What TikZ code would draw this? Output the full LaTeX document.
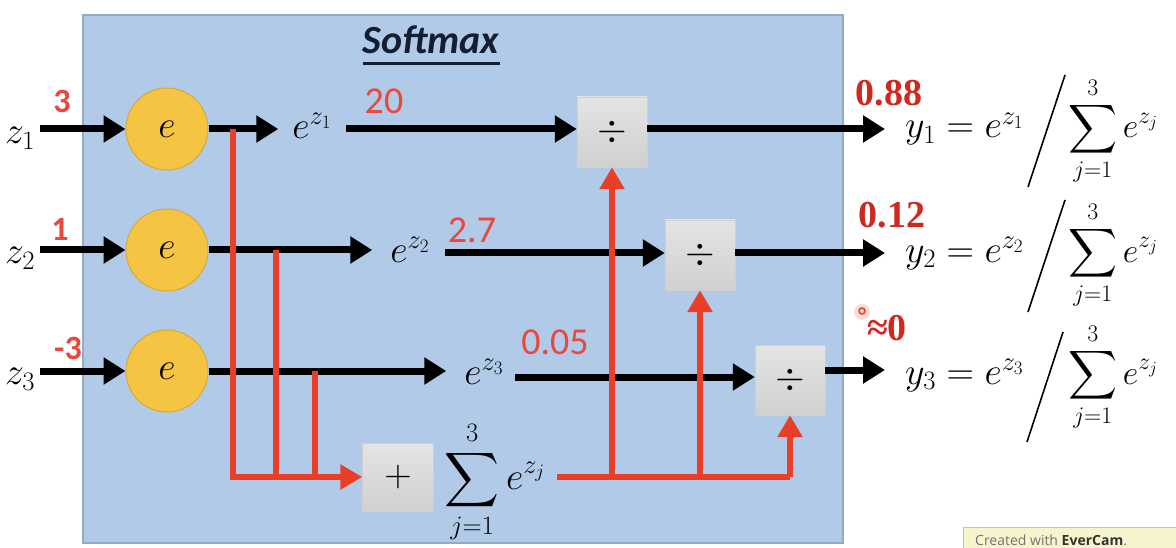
\RequirePackage{fix-cm}
\documentclass[tikz,border=0pt]{standalone}
\usepackage{fontspec}
\usetikzlibrary{arrows.meta,calc}
\DeclareFontFamily{OMX}{cmex}{}
\DeclareFontShape{OMX}{cmex}{m}{n}{<->cmex10}{}
\newfontfamily\carl{Carlito}
\newfontfamily\tms{Liberation Serif}
\newfontfamily\wmfont{Open Sans}
\definecolor{boxblue}{RGB}{176,202,232}
\definecolor{boxedge}{RGB}{150,170,195}
\definecolor{gold}{RGB}{245,196,66}
\definecolor{goldedge}{RGB}{215,170,60}
\definecolor{opred}{RGB}{232,64,40}
\definecolor{txtred}{RGB}{232,72,62}
\definecolor{numred}{RGB}{208,40,30}
\definecolor{graytop}{RGB}{228,228,228}
\definecolor{graybot}{RGB}{208,208,208}
\definecolor{titleblue}{RGB}{20,30,50}
\definecolor{wmyellow}{RGB}{246,244,204}
\definecolor{wmedge}{RGB}{200,196,160}
\begin{document}
\begin{tikzpicture}[x=1pt,y=-1pt,
  blk/.style={line width=7pt,-{Triangle[length=22pt,width=26pt]}},
  blkline/.style={line width=7pt},
  redline/.style={opred,line width=6pt},
  redarr/.style={opred,line width=6pt,-{Triangle[length=22pt,width=24pt]}},
  expnode/.style={circle,fill=gold,draw=goldedge,line width=1pt,minimum size=82pt,inner sep=0pt,font=\fontsize{38}{40}\selectfont},
  opbox/.style={rectangle,top color=graytop,bottom color=graybot,draw=graybot,minimum width=70pt,minimum height=70pt,inner sep=0pt,font=\fontsize{38}{40}\selectfont},
  mtxt/.style={inner sep=0pt,font=\fontsize{38}{40}\selectfont},
  sred/.style={text=txtred,font=\carl\fontsize{38}{40}\selectfont,inner sep=0pt},
  sredb/.style={text=txtred,font=\carl\bfseries\fontsize{34}{36}\selectfont,inner sep=0pt},
  tred/.style={text=numred,font=\tms\bfseries\fontsize{38}{40}\selectfont,inner sep=0pt},
  slash/.style={line width=1.6pt,black}
]
\useasboundingbox (0,0) rectangle (1176,548);
\fill[white] (0,0) rectangle (1176,548);
% main box
\fill[boxblue,draw=boxedge,line width=1.5pt] (83,15) rectangle (843,543);
% title
\node[inner sep=0pt,text=titleblue,font=\carl\bfseries\itshape\fontsize{40}{40}\selectfont] (title) at (431,40) {Softmax};
\draw[titleblue,line width=2.5pt] ([yshift=-10pt]title.base west) -- ([yshift=-10pt]title.base east);

% exp circles
\node[expnode] (e1) at (167,129) {$e$};
\node[expnode] (e2) at (167,250) {$e$};
\node[expnode] (e3) at (167,371) {$e$};

% inputs
\node[mtxt] (z1) at (20,138) {$z_1$};
\node[mtxt] (z2) at (20,258) {$z_2$};
\node[mtxt] (z3) at (20,379) {$z_3$};
\coordinate (in1) at (40,129);
\coordinate (in2) at (40,250);
\coordinate (in3) at (40,371);
\draw[blk] (in1) -- (e1);
\draw[blk] (in2) -- (e2);
\draw[blk] (in3) -- (e3);
\node[sredb] (v1) at (62,101) {3};
\node[sredb] (v2) at (60,229) {1};
\node[sredb] (v3) at (68,348) {-3};

% exponentials
\node[mtxt,inner xsep=14pt] (ez1) at (312,126) {$e^{z_1}$};
\node[mtxt,inner xsep=18pt] (ez2) at (410,250) {$e^{z_2}$};
\node[mtxt,inner xsep=18pt] (ez3) at (484,372) {$e^{z_3}$};

% divide boxes
\node[opbox] (d1) at (612,132) {$\div$};
\node[opbox] (d2) at (700,255) {$\div$};
\node[opbox] (d3) at (790,380) {$\div$};

% sum box
\node[opbox,minimum width=71pt,minimum height=68pt] (plus) at (398,477) {$+$};
\node[inner sep=0pt,font=\fontsize{38}{40}\selectfont] (sum) at (495,482) {$\displaystyle\sum_{j=1}^{3} e^{z_j}$};

% black connectors
\draw[blk] (e1.east) -- (e1.east -| ez1.west);
\draw[blk] (e2.east) -- (e2.east -| ez2.west);
\draw[blk] (e3.east) -- (e3.east -| ez3.west);
\draw[blk] (ez1.east |- e1.east) -- (e1.east -| d1.west);
\coordinate (r2) at (445,253);
\coordinate (r3) at (515,377);
\draw[blk] (r2) -- (r2 -| d2.west);
\draw[blk] (r3) -- (r3 -| d3.west);

% values
\node[sred] (n1) at (384,101) {20};
\node[sred] (n2) at (472,230) {2.7};
\node[sred] (n3) at (555,342) {0.05};

% outputs
\coordinate (o1) at (885,129);
\coordinate (o2) at (885,253);
\coordinate (o3) at (885,370);
\draw[blk] (d1.east |- o1) -- (o1);
\draw[blk] (d2.east |- o2) -- (o2);
\draw[blk] (d3.east |- o3) -- (o3);

% red branching to sum
\coordinate (b1) at (233,129);
\coordinate (b2) at (276,250);
\coordinate (b3) at (315,371);
\draw[redline] (b2) -- (b2 |- plus.west);
\draw[redline] (b3) -- (b3 |- plus.west);
\draw[redarr] (b1) |- (plus.west);

% red sum distribution
\coordinate (s0) at (557,477);
\draw[redline] (s0) -- (s0 -| d3.south);
\draw[redarr] (d1.south |- s0) -- (d1.south);
\draw[redarr] (d2.south |- s0) -- (d2.south);
\draw[redarr] (d3.south |- s0) -- (d3.south);

% right formulas
\node[mtxt,anchor=base west] (y1) at (905,138) {$y_1 = e^{z_1}$};
\node[mtxt,anchor=base west] (y2) at (905,262) {$y_2 = e^{z_2}$};
\node[mtxt,anchor=base west] (y3) at (905,384) {$y_3 = e^{z_3}$};
\node[mtxt,anchor=base west,font=\fontsize{34}{36}\selectfont] (sy1) at (1068,138) {$\displaystyle\sum_{j=1}^{3} e^{z_j}$};
\node[mtxt,anchor=base west,font=\fontsize{34}{36}\selectfont] (sy2) at (1068,262) {$\displaystyle\sum_{j=1}^{3} e^{z_j}$};
\node[mtxt,anchor=base west,font=\fontsize{34}{36}\selectfont] (sy3) at (1068,384) {$\displaystyle\sum_{j=1}^{3} e^{z_j}$};
\draw[slash] (1028,187) -- (1065,75);
\draw[slash] (1028,312) -- (1065,200);
\draw[slash] (1027,442) -- (1063,332);

% red results
\node[tred] (p1) at (889,93) {0.88};
\node[tred] (p2) at (892,215) {0.12};
\node[tred] (p3) at (887,328) {≈0};
\fill[opred!30,opacity=0.6] (862,312) circle (8);
\draw[opred,line width=1.5pt] (862,311) circle (3);

% watermark
\filldraw[fill=wmyellow,draw=wmedge,line width=1pt] (963,527) rectangle (1180,552);
\node[anchor=base west,inner sep=0pt,text=black!55,font=\wmfont\fontsize{14}{14}\selectfont] (wm) at (975,545) {Created with \textcolor{black!80}{\bfseries EverCam}.};
\end{tikzpicture}
\end{document}
